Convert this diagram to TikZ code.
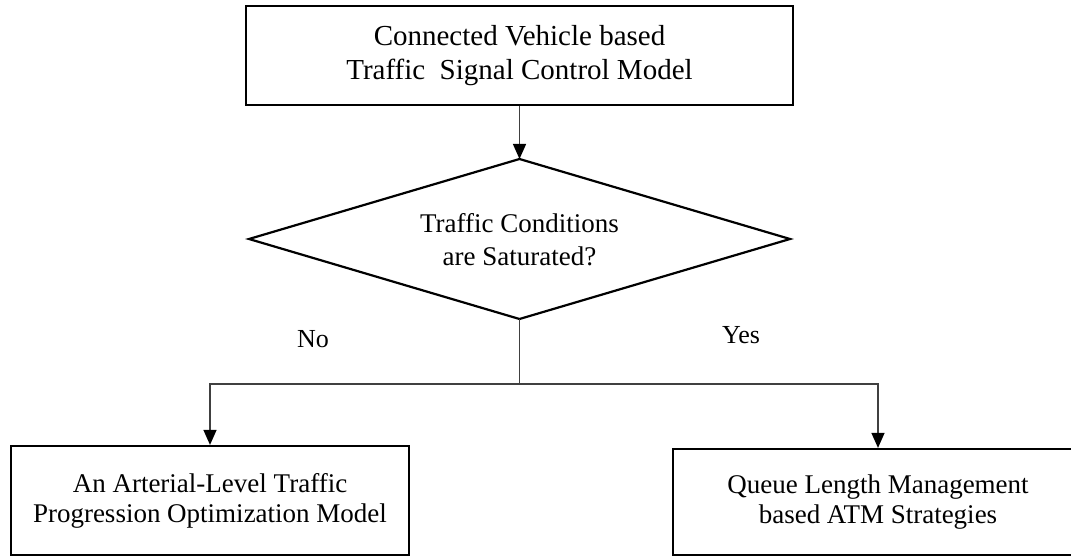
\documentclass[tikz,border=0pt]{standalone}
\usepackage{fontspec}
\setmainfont{Liberation Serif}
\usetikzlibrary{arrows.meta}

\tikzset{
  procbox/.style={draw=black, line width=2.2pt, fill=white, align=center,
                  inner sep=0pt},
  decisionline/.style={draw=black, line width=2.2pt, line join=miter},
  flow/.style={draw=black!75, line width=1.3pt},
  flowarrow/.style={flow, -{Triangle[length=15pt,width=13pt,fill=black,color=black]}},
  branchlabel/.style={font=\fontsize{26}{30}\selectfont}
}

\begin{document}
\begin{tikzpicture}[x=1pt,y=-1pt]
  \useasboundingbox (0,0) rectangle (1071,556);
  \fill[white] (0,0) rectangle (1071,556);
  \clip (0,0) rectangle (1071,556);

  % model box at the top
  \node[procbox, minimum width=547pt, minimum height=99pt,
        font=\fontsize{29}{34}\selectfont] (model) at (519.5,55.5)
    {Connected Vehicle based\\Traffic\ \ Signal Control Model};

  % saturation test: a diamond with its four corners
  \coordinate (satN) at (519.5,159);
  \coordinate (satE) at (790,239);
  \coordinate (satS) at (519.5,319);
  \coordinate (satW) at (249,239);
  \draw[decisionline] (satN) -- (satE) -- (satS) -- (satW) -- cycle;
  \node[align=center, font=\fontsize{27}{33}\selectfont] (sat) at (519.5,240)
    {Traffic Conditions\\are Saturated?};

  % the two outcomes
  \node[procbox, minimum width=398pt, minimum height=109pt,
        font=\fontsize{27}{30}\selectfont] (arterial) at (210,500.5)
    {An Arterial-Level Traffic\\Progression Optimization Model};
  \node[procbox, minimum width=410pt, minimum height=106pt,
        font=\fontsize{27}{30}\selectfont] (queue) at (878,502)
    {Queue Length Management\\based ATM Strategies};

  % connectors
  \draw[flowarrow] (model.south) -- (satN);
  \coordinate (split) at (satS |- 0,384);
  \draw[flow] (satS) -- (split);
  \draw[flowarrow] (split) -| (arterial.north);
  \draw[flowarrow] (split) -| (queue.north);

  % branch labels
  \node[branchlabel] (no) at (313,339) {No};
  \node[branchlabel] (yes) at (741,335) {Yes};
\end{tikzpicture}
\end{document}
